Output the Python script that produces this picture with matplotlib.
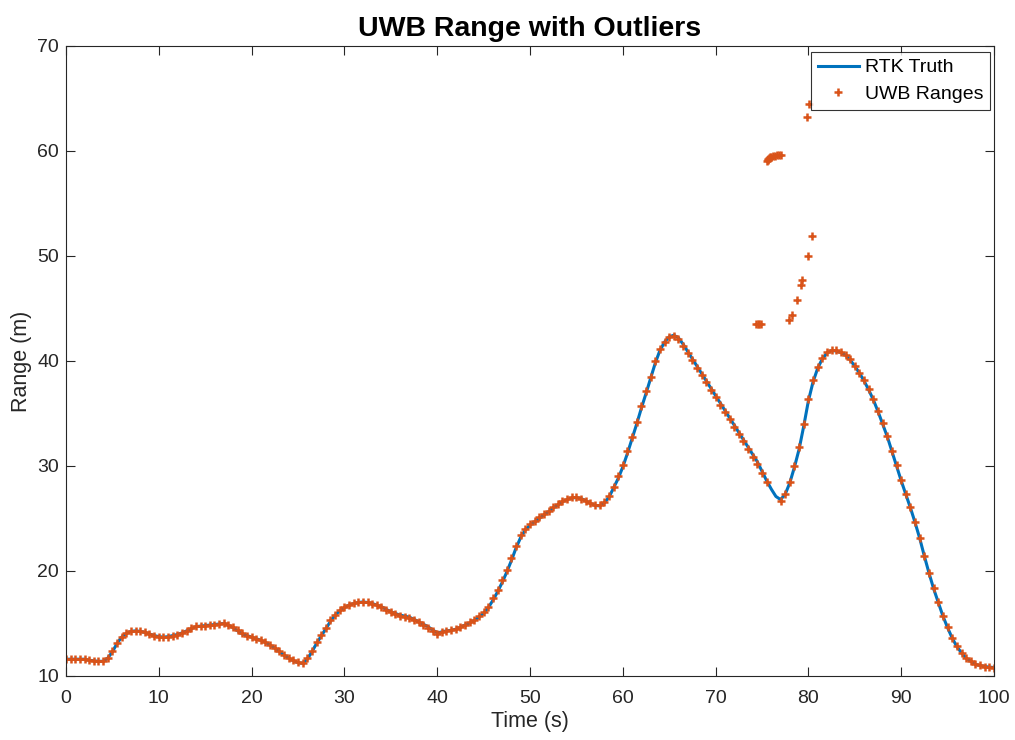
import numpy as np
import matplotlib
matplotlib.use("Agg")
import matplotlib.pyplot as plt

plt.rcParams['font.family'] = ['Liberation Sans', 'DejaVu Sans']

# RTK truth, sampled every 0.5 s from 0 to 100 s
truth_t = np.arange(0, 100.5, 0.5)
truth_r = [
    11.6, 11.6, 11.6, 11.6, 11.6, 11.5, 11.45, 11.4, 11.4, 11.7,
    12.3, 13.1, 13.7, 14.05, 14.25, 14.3, 14.25, 14.15, 14.0, 13.85,
    13.75, 13.7, 13.75, 13.85, 13.95, 14.1, 14.3, 14.5, 14.7, 14.75,
    14.8, 14.85, 14.9, 14.95, 15.0, 14.85, 14.6, 14.3, 14.0, 13.85,
    13.7, 13.55, 13.4, 13.2, 12.95, 12.65, 12.3, 12.0, 11.7, 11.45,
    11.27, 11.2, 11.6, 12.3, 13.1, 13.8, 14.5, 15.2, 15.8, 16.2,
    16.5, 16.75, 16.9, 17.0, 17.05, 17.0, 16.9, 16.75, 16.6, 16.35,
    16.12, 15.95, 15.8, 15.7, 15.6, 15.4, 15.17, 14.95, 14.7, 14.4,
    14.1, 14.2, 14.3, 14.35, 14.45, 14.65, 14.86, 15.05, 15.3, 15.6,
    15.97, 16.5, 17.2, 18.0, 18.9, 19.9, 21.0, 22.2, 23.2, 23.9,
    24.35, 24.7, 25.0, 25.35, 25.65, 26.0, 26.3, 26.6, 26.8, 26.95,
    27.0, 26.9, 26.7, 26.45, 26.25, 26.2, 26.5, 27.0, 27.9, 28.8,
    29.9, 31.2, 32.6, 34.0, 35.5, 36.9, 38.35, 39.8, 41.0, 41.8,
    42.3, 42.45, 42.2, 41.6, 40.9, 40.2, 39.5, 38.8, 38.1, 37.4,
    36.7, 36.0, 35.3, 34.6, 33.9, 33.2, 32.5, 31.8, 31.1, 30.4,
    29.5, 28.6, 27.8, 27.1, 26.8, 27.3, 28.4, 29.9, 31.6, 33.8,
    36.2, 38.0, 39.3, 40.2, 40.75, 41.0, 40.95, 40.8, 40.55, 40.1,
    39.5, 38.85, 38.1, 37.25, 36.3, 35.2, 34.0, 32.8, 31.4, 30.0,
    28.6, 27.3, 26.0, 24.6, 23.1, 21.4, 19.8, 18.3, 17.0, 15.7,
    14.6, 13.6, 12.8, 12.2, 11.7, 11.4, 11.1, 11.0, 10.9, 10.85,
    10.8,
]

# UWB ranges on the same 0.5 s grid (nan where the sample was an outlier)
nan = float('nan')
uwb_r = [
    11.6, 11.6, 11.6, 11.6, 11.6, 11.5, 11.45, 11.4, 11.4, 11.7,
    12.35, 13.15, 13.75, 14.1, 14.25, 14.3, 14.25, 14.15, 14.0, 13.85,
    13.75, 13.7, 13.75, 13.85, 13.95, 14.1, 14.3, 14.55, 14.75, 14.75,
    14.8, 14.85, 14.9, 14.95, 15.0, 14.9, 14.65, 14.35, 14.05, 13.85,
    13.7, 13.55, 13.4, 13.2, 12.95, 12.65, 12.35, 12.0, 11.75, 11.5,
    11.3, 11.25, 11.7, 12.4, 13.2, 13.9, 14.6, 15.3, 15.85, 16.25,
    16.55, 16.8, 16.95, 17.0, 17.05, 17.0, 16.9, 16.75, 16.55, 16.3,
    16.1, 15.9, 15.75, 15.65, 15.5, 15.35, 15.1, 14.9, 14.6, 14.3,
    14.0, 14.2, 14.3, 14.4, 14.5, 14.7, 14.9, 15.1, 15.35, 15.7,
    16.1, 16.6, 17.4, 18.2, 19.1, 20.1, 21.2, 22.4, 23.4, 24.0,
    24.45, 24.8, 25.1, 25.4, 25.7, 26.05, 26.4, 26.65, 26.85, 27.0,
    27.0, 26.9, 26.7, 26.45, 26.25, 26.25, 26.55, 27.1, 28.0, 29.0,
    30.1, 31.4, 32.8, 34.2, 35.7, 37.1, 38.5, 40.0, 41.1, 41.85,
    42.3, 42.4, 42.1, 41.45, 40.75, 40.05, 39.35, 38.65, 37.95, 37.25,
    36.55, 35.85, 35.15, 34.45, 33.75, 33.05, 32.35, 31.65, 30.9, 30.2,
    29.35, 28.5, nan, nan, 26.7, 27.3, 28.5, 30.0, 31.8, 34.0,
    36.4, 38.2, 39.4, 40.3, 40.85, 41.05, 41.0, 40.85, 40.6, 40.15,
    39.55, 38.9, 38.15, 37.3, 36.35, 35.25, 34.05, 32.85, 31.45, 30.05,
    28.65, 27.35, 26.05, 24.65, 23.15, 21.45, 19.85, 18.35, 17.05, 15.75,
    14.65, 13.65, 12.85, 12.2, 11.7, 11.4, 11.1, 11.0, 10.9, 10.85,
    10.8,
]

# outlier UWB samples
outlier_t = [74.4, 74.55, 74.7, 74.85,
             75.5, 75.6, 75.7, 75.8, 75.9, 76.0, 76.2, 76.4, 76.6, 76.8, 77.0,
             77.9, 78.2, 78.8, 79.2, 79.3, 79.8, 80.0, 80.1, 80.4]
outlier_r = [43.5, 43.55, 43.5, 43.5,
             59.05, 59.15, 59.25, 59.32, 59.38, 59.44, 59.5, 59.55, 59.58, 59.6, 59.6,
             43.9, 44.4, 45.8, 47.2, 47.7, 63.2, 50.0, 64.5, 51.9]

uwb_t = np.concatenate([truth_t, outlier_t])
uwb_all = np.concatenate([uwb_r, outlier_r])

fig = plt.figure(figsize=(10.15, 7.40), dpi=100)
ax = fig.add_axes([0.065, 0.0865, 0.9143, 0.8514])

ax.plot(truth_t, truth_r, color='#0072BD', linewidth=2.2, label='RTK Truth')
ax.plot(uwb_t, uwb_all, linestyle='none', marker='+', markersize=5.5,
        markeredgewidth=1.8, color='#D95319', label='UWB Ranges')

ax.set_xlim(0, 100)
ax.set_ylim(10, 70)
ax.set_xticks(range(0, 101, 10))
ax.set_yticks(range(10, 71, 10))

axis_gray = '#262626'
for s in ax.spines.values():
    s.set_color(axis_gray)
    s.set_linewidth(0.8)
ax.tick_params(direction='in', length=6.5, width=0.8, top=True, right=True,
               labelsize=14, colors=axis_gray)
ax.tick_params(axis='x', pad=10)
ax.tick_params(axis='y', pad=5)

ax.set_xlabel('Time (s)', fontsize=15.5, color=axis_gray, labelpad=3)
ax.set_ylabel('Range (m)', fontsize=15.5, color=axis_gray, labelpad=4)
ax.set_title('UWB Range with Outliers', fontsize=20.5, fontweight='bold', pad=7)

leg = ax.legend(loc='upper right', bbox_to_anchor=(0.9957, 0.9905),
                borderaxespad=0, fontsize=14, frameon=True, fancybox=False,
                handlelength=2.1, borderpad=0.35,
                labelspacing=0.45, handletextpad=0.3)
leg.get_frame().set_edgecolor('black')
leg.get_frame().set_linewidth(0.8)

fig.savefig('out.png', dpi=100)
